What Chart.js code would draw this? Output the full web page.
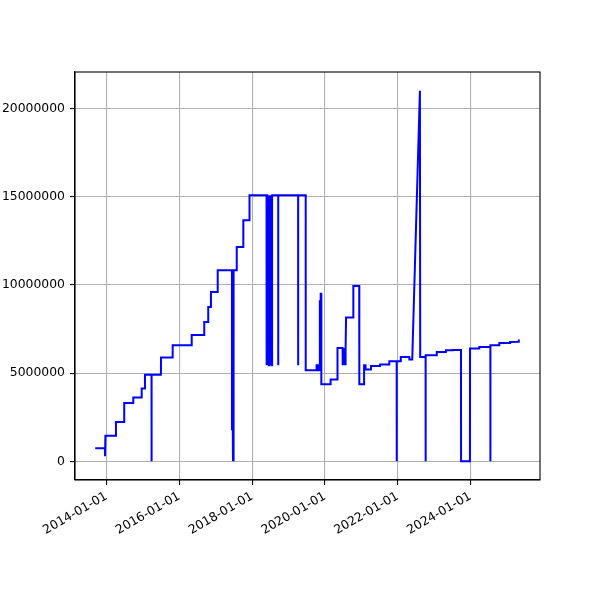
<!DOCTYPE html>
<html>
<head>
<meta charset="utf-8">
<script src="https://cdn.jsdelivr.net/npm/chart.js@4.4.1/dist/chart.umd.min.js"></script>
<style>
  html, body { margin: 0; padding: 0; background: #ffffff; }
  canvas { display: block; }
</style>
</head>
<body>
<canvas id="c" width="600" height="600"></canvas>
<script>
// ---- data ----
const dates = [
  '2013-09-09','2013-12-15','2013-12-16','2013-12-20',
  '2014-04-04','2014-04-05','2014-06-26','2014-06-27','2014-09-25','2014-09-26',
  '2014-12-18','2014-12-19','2015-01-20','2015-01-21',
  '2015-03-28','2015-03-28','2015-03-29',
  '2015-06-30','2015-07-01','2015-10-25','2015-10-26','2016-05-03','2016-05-04',
  '2016-09-06','2016-09-07','2016-10-16','2016-10-17','2016-11-12','2016-11-13',
  '2017-01-19','2017-01-20',
  '2017-06-12','2017-06-12','2017-06-13','2017-06-22','2017-06-22','2017-06-23','2017-06-28','2017-06-28','2017-06-29',
  '2017-07-29','2017-07-30','2017-10-03','2017-10-04','2017-12-04','2017-12-05',
  '2018-05-25','2018-05-25','2018-05-27','2018-05-31','2018-06-01','2018-06-06','2018-06-07','2018-06-12','2018-06-13',
  '2018-06-18','2018-06-19','2018-06-24','2018-06-25','2018-06-30','2018-07-01','2018-07-06','2018-07-07',
  '2018-07-12','2018-07-13','2018-07-18','2018-07-19','2018-07-20',
  '2018-09-19','2018-09-19','2018-09-20',
  '2019-04-07','2019-04-07','2019-04-08',
  '2019-06-22','2019-06-22',
  '2019-10-09','2019-10-09','2019-10-25','2019-10-25',
  '2019-11-11','2019-11-11','2019-11-13','2019-11-19','2019-11-20','2019-11-25','2019-11-26',
  '2020-02-26','2020-02-27','2020-05-05','2020-05-06',
  '2020-06-26','2020-06-27','2020-07-01','2020-07-02','2020-07-06','2020-07-07','2020-07-11','2020-07-12',
  '2020-07-16','2020-07-17','2020-07-21','2020-07-22','2020-07-26','2020-07-27','2020-07-30',
  '2020-07-31','2020-10-11','2020-10-12','2020-12-10','2020-12-11',
  '2021-01-27','2021-01-28','2021-02-11','2021-02-12','2021-04-07','2021-04-08',
  '2021-07-06','2021-07-07','2021-10-07','2021-10-08',
  '2021-12-21','2021-12-21','2021-12-22',
  '2022-01-30','2022-01-31','2022-04-26','2022-04-27',
  '2022-05-26','2022-08-11','2022-08-14',
  '2022-10-07','2022-10-07','2022-10-08',
  '2023-01-26','2023-01-27','2023-04-29','2023-04-30','2023-07-07','2023-07-08',
  '2023-09-27','2023-09-28','2023-12-26','2023-12-27',
  '2024-03-28','2024-03-29','2024-07-18','2024-07-18','2024-07-19',
  '2024-10-15','2024-10-16','2025-01-31','2025-02-01','2025-04-22','2025-04-29'
];
const values = [
  740000,740000,280000,1450000,
  1450000,2230000,2230000,3310000,3310000,3610000,
  3610000,4120000,4120000,4910000,
  4910000,0,4910000,
  4910000,5880000,5880000,6580000,6580000,7160000,
  7160000,7900000,7900000,8750000,8750000,9600000,
  9600000,10830000,
  10830000,1760000,10830000,10830000,0,10830000,10830000,0,10830000,
  10830000,12150000,12150000,13660000,13660000,15080000,
  15080000,5440000,15080000,15080000,5440000,15080000,5440000,15080000,5440000,
  15080000,5440000,15080000,5440000,15080000,5440000,15080000,5440000,
  15080000,5440000,15080000,5440000,15080000,
  15080000,5440000,15080000,
  15080000,5440000,15080000,
  15080000,5160000,
  5160000,5440000,5440000,5160000,
  5160000,9130000,5160000,5160000,9500000,9500000,4370000,
  4370000,4630000,4630000,6420000,
  6420000,5440000,6420000,5440000,6420000,5440000,6420000,5440000,
  6420000,5440000,6420000,5440000,6420000,5440000,6420000,
  8150000,8150000,9930000,9930000,4370000,
  4370000,5440000,5440000,5200000,5200000,5400000,
  5400000,5480000,5480000,5670000,
  5670000,0,5670000,
  5670000,5910000,5910000,5770000,
  5770000,21000000,5910000,
  5910000,0,6010000,
  6010000,6200000,6200000,6290000,6290000,6310000,
  6310000,0,0,6390000,
  6390000,6480000,6480000,0,6580000,
  6580000,6710000,6710000,6760000,6780000,6900000
];
const xTickDates = ['2014-01-01','2016-01-01','2018-01-01','2020-01-01','2022-01-01','2024-01-01'];
const xTickLabels = ['2014-01-01','2016-01-01','2018-01-01','2020-01-01','2022-01-01','2024-01-01'];
const yTickValues = [0, 5000000, 10000000, 15000000, 20000000];
const yTickLabels = ['0','5000000','10000000','15000000','20000000'];

// ---- chart ----
const FONT = { family: 'DejaVu Sans', size: 12.4 };
const points = dates.map((d, i) => ({ x: Date.parse(d), y: values[i] }));

const framePlugin = {
  id: 'frame',
  afterDraw(chart) {
    const a = chart.chartArea, ctx = chart.ctx;
    ctx.save();
    ctx.strokeStyle = '#000000';
    ctx.lineWidth = 1.1;
    ctx.strokeRect(a.left, a.top, a.right - a.left, a.bottom - a.top);
    ctx.restore();
  }
};

new Chart(document.getElementById('c'), {
  type: 'line',
  data: {
    datasets: [{
      data: points,
      borderColor: '#0000ff',
      borderWidth: 2,
      pointRadius: 0,
      tension: 0,
      fill: false
    }]
  },
  options: {
    responsive: false,
    animation: false,
    devicePixelRatio: 1,
    layout: { padding: { left: 0, right: 60, top: 72, bottom: 0 } },
    plugins: { legend: { display: false }, tooltip: { enabled: false } },
    scales: {
      x: {
        type: 'linear',
        min: Date.parse('2013-02-18'),
        max: Date.parse('2025-11-28'),
        afterBuildTicks: s => { s.ticks = xTickDates.map(d => ({ value: Date.parse(d) })); },
        afterFit: s => { s.height = 120; },
        ticks: {
          autoSkip: false,
          minRotation: 30,
          maxRotation: 30,
          padding: 4,
          color: '#000000',
          font: FONT,
          callback: (v, i) => xTickLabels[i]
        },
        grid: { color: '#b0b0b0', lineWidth: 1.1, tickColor: '#000000', tickLength: 5 },
        border: { color: '#000000', width: 1.1 }
      },
      y: {
        type: 'linear',
        min: -1060000,
        max: 22060000,
        afterBuildTicks: s => { s.ticks = yTickValues.map(v => ({ value: v })); },
        afterFit: s => { s.width = 75; },
        ticks: {
          padding: 5,
          color: '#000000',
          font: FONT,
          callback: (v, i) => yTickLabels[i]
        },
        grid: { color: '#b0b0b0', lineWidth: 1.1, tickColor: '#000000', tickLength: 5 },
        border: { color: '#000000', width: 1.1 }
      }
    }
  },
  plugins: [framePlugin]
});
</script>
</body>
</html>
